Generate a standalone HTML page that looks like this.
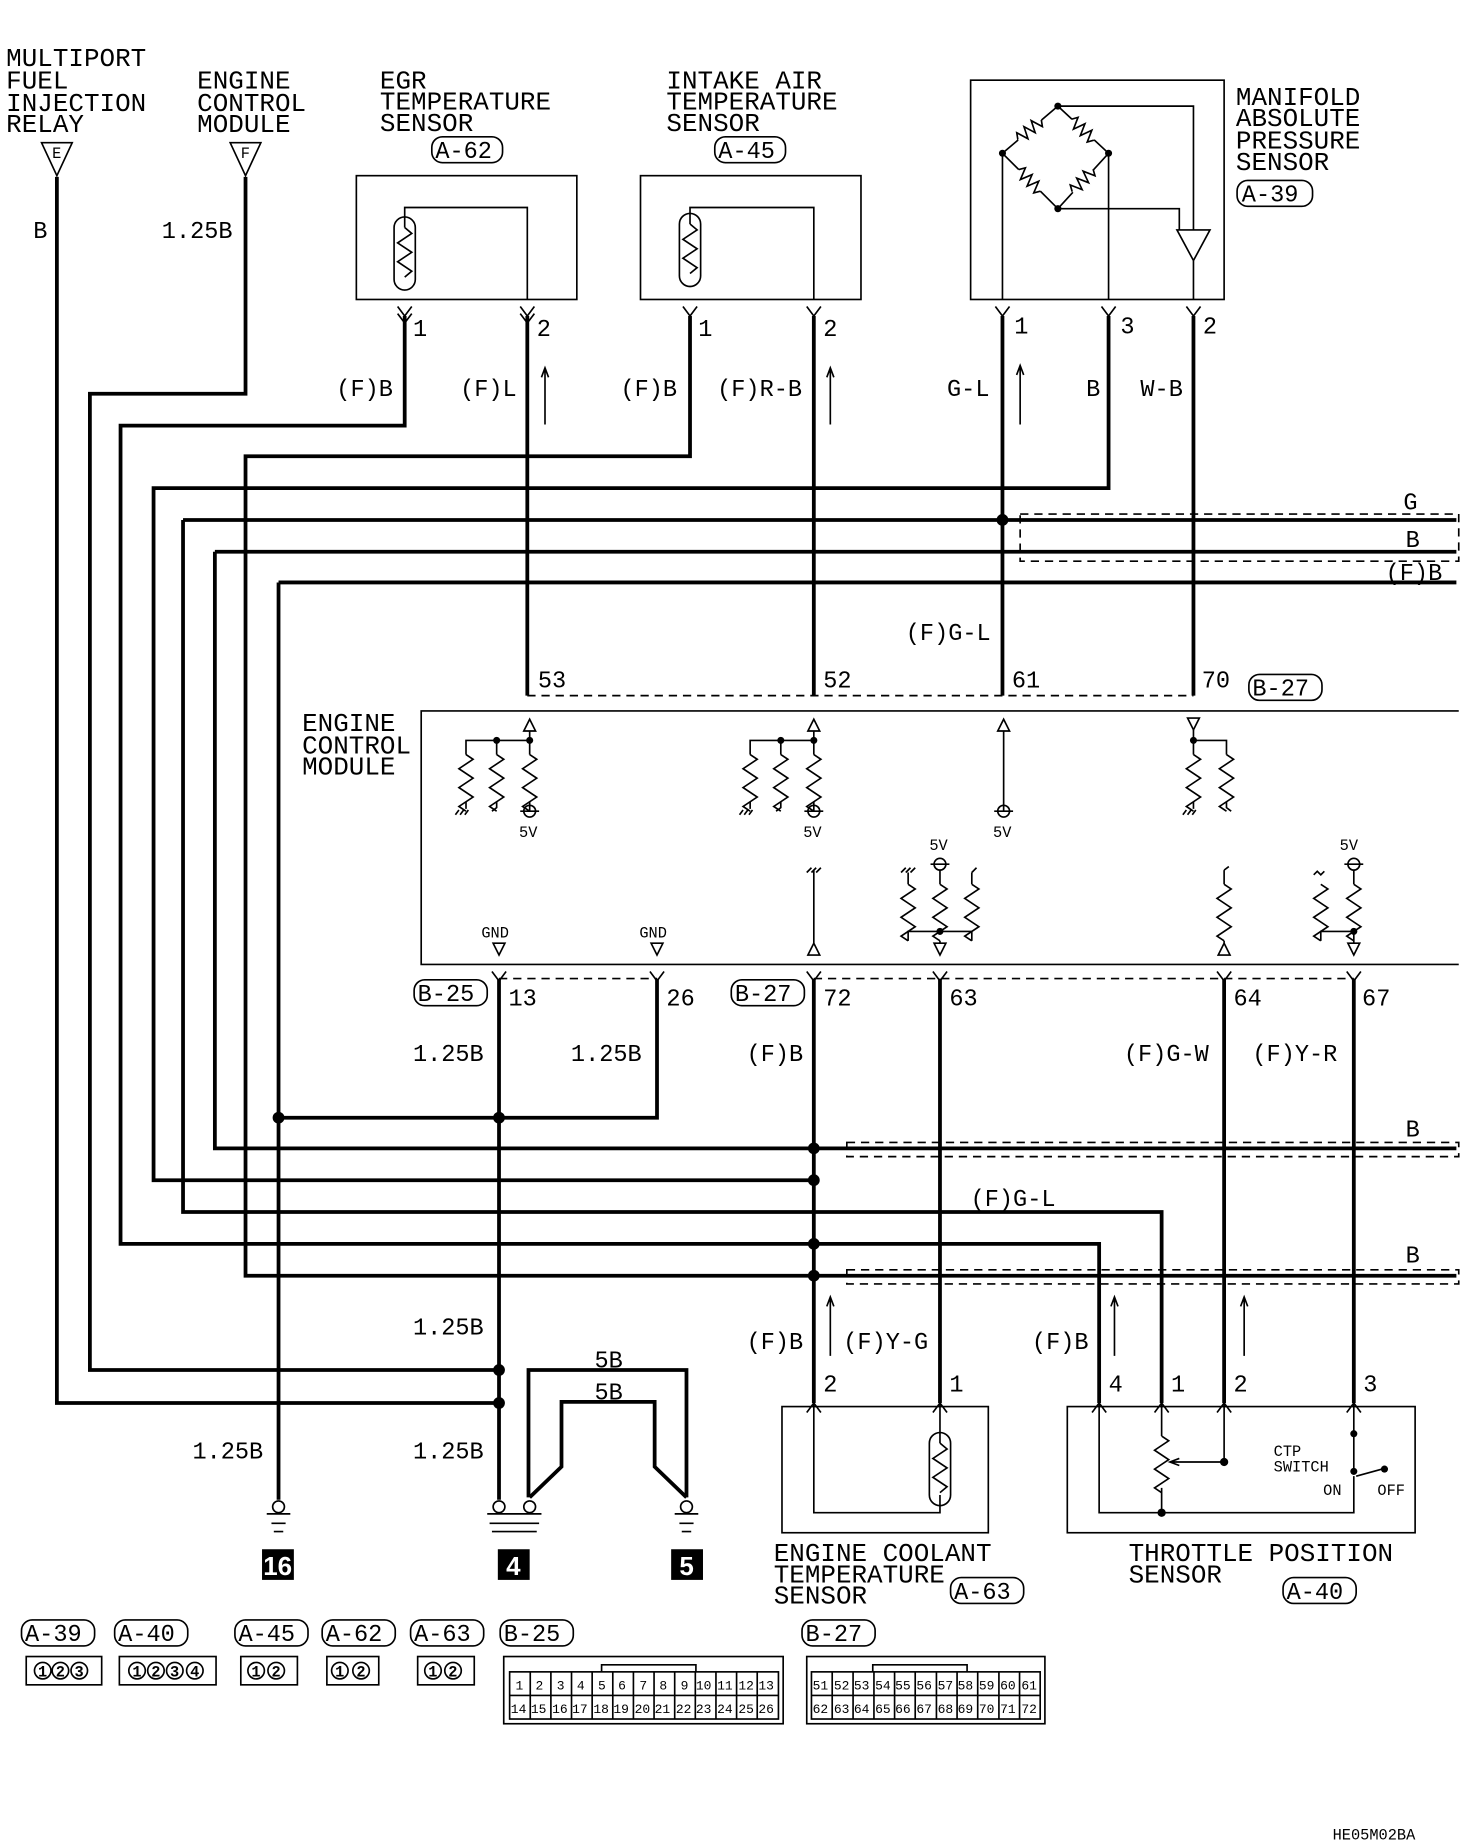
<!DOCTYPE html>
<html><head><meta charset="utf-8"><style>
html,body{margin:0;padding:0;background:#fff}
svg{display:block}
text{font-family:"Liberation Mono",monospace;fill:#000}
.t{font-size:22px}
.s{font-size:20px}
.xs{font-size:13px}
.w{stroke:#000;stroke-width:3.2;fill:none}
.n{stroke:#000;stroke-width:1.4;fill:none}
.d{stroke:#000;stroke-width:1.4;fill:none;stroke-dasharray:7 5}
</style></head><body>
<svg width="1472" height="1844" viewBox="0 0 1248 1564" xmlns="http://www.w3.org/2000/svg">
<defs>
<path id="r" d="M0 0 l6 4 l-12 8 l12 8 l-12 8 l12 8 l-12 8 l6 4" class="n"/>
<path id="th" d="M0 0 m-9 -22 a9 9 0 0 1 18 0 v44 a9 9 0 0 1 -18 0 z M0 -22 l6 5 l-12 8 l12 8 l-12 8 l12 8 l-6 5" class="n"/>
<g id="bz"><path d="M-13 0 H13" stroke="#fff" stroke-width="4"/><path d="M-13 0 l3 -5 l4 10 l4 -10 l4 10 l4 -10 l4 10 l3 -5" class="n"/></g>
</defs>

<!-- top-left labels -->
<text class="t" x="5" y="56">MULTIPORT</text>
<text class="t" x="5" y="75">FUEL</text>
<text class="t" x="5" y="94">INJECTION</text>
<text class="t" x="5" y="112">RELAY</text>
<text class="t" x="167" y="75">ENGINE</text>
<text class="t" x="167" y="94">CONTROL</text>
<text class="t" x="167" y="112">MODULE</text>
<path class="n" d="M35 121 h26 l-13 28 z M195 121 h26 l-13 28 z"/>
<text class="xs" x="44" y="134">E</text><text class="xs" x="204" y="134">F</text>
<text class="s" x="28" y="202">B</text>
<text class="s" x="137" y="202">1.25B</text>

<!-- EGR sensor -->
<text class="t" x="322" y="75">EGR</text>
<text class="t" x="322" y="93">TEMPERATURE</text>
<text class="t" x="322" y="111">SENSOR</text>
<rect x="366" y="116" width="60" height="22" rx="9" class="n"/><text class="s" x="369" y="134">A-62</text>
<rect x="302" y="149" width="187" height="105" class="n"/>
<use href="#th" x="343" y="215"/>
<path class="n" d="M343 193 V176 H447 V254"/>
<text class="s" x="350" y="285">1</text><text class="s" x="455" y="285">2</text>
<text class="s" x="285" y="336">(F)B</text><text class="s" x="390" y="336">(F)L</text>
<path class="n" d="M462 360 V312 M459 320 l3 -8 l3 8"/>

<!-- Intake air -->
<text class="t" x="565" y="75">INTAKE AIR</text>
<text class="t" x="565" y="93">TEMPERATURE</text>
<text class="t" x="565" y="111">SENSOR</text>
<rect x="606" y="116" width="60" height="22" rx="9" class="n"/><text class="s" x="609" y="134">A-45</text>
<rect x="543" y="149" width="187" height="105" class="n"/>
<use href="#th" x="585" y="212"/>
<path class="n" d="M585 190 V176 H690 V254"/>
<text class="s" x="592" y="285">1</text><text class="s" x="698" y="285">2</text>
<text class="s" x="526" y="336">(F)B</text><text class="s" x="608" y="336">(F)R-B</text>
<path class="n" d="M704 360 V312 M701 320 l3 -8 l3 8"/>

<!-- MAP sensor -->
<rect x="823" y="68" width="215" height="186" class="n"/>
<path class="n" d="M850 130 L897 90 L940 130 L897 177 Z"/>
<use href="#bz" transform="translate(873,110) rotate(-40)"/>
<use href="#bz" transform="translate(918,110) rotate(43)"/>
<use href="#bz" transform="translate(873,153) rotate(45)"/>
<use href="#bz" transform="translate(918,153) rotate(-47)"/>
<path class="n" d="M850 130 V254 M940 130 V254 M897 177 H1000 V195 M897 90 H1012 V195 M998 195 h28 l-14 26 z M1012 221 V254"/>
<circle cx="850" cy="130" r="3"/><circle cx="897" cy="90" r="3"/><circle cx="940" cy="130" r="3"/><circle cx="897" cy="177" r="3"/>
<text class="t" x="1048" y="89">MANIFOLD</text>
<text class="t" x="1048" y="107">ABSOLUTE</text>
<text class="t" x="1048" y="126">PRESSURE</text>
<text class="t" x="1048" y="144">SENSOR</text>
<rect x="1049" y="153" width="64" height="22" rx="9" class="n"/><text class="s" x="1053" y="171">A-39</text>
<text class="s" x="860" y="283">1</text><text class="s" x="950" y="283">3</text><text class="s" x="1020" y="283">2</text>
<text class="s" x="803" y="336">G-L</text><text class="s" x="921" y="336">B</text><text class="s" x="967" y="336">W-B</text>
<path class="n" d="M865 360 V310 M862 318 l3 -8 l3 8"/>

<!-- connector pin arrows top -->
<path class="n" d="M337 260 l6 8 l6 -8 M337 266 l6 8 l6 -8 M441 260 l6 8 l6 -8 M441 266 l6 8 l6 -8 M579 260 l6 8 l6 -8 M684 260 l6 8 l6 -8 M844 260 l6 8 l6 -8 M934 260 l6 8 l6 -8 M1006 260 l6 8 l6 -8"/>

<!-- top wiring -->
<path class="w" d="M48 150 V1190 H423"/>
<path class="w" d="M208 150 V334 H76 V1162 H423"/>
<path class="w" d="M343 268 V361 H102 V1055 H932 V1190"/>
<path class="w" d="M585 268 V387 H208 V1082 H1235"/>
<path class="w" d="M940 268 V414 H130 V1001 H690"/>
<path class="w" d="M155 441 H1235 M155 441 V1028 H985 V1190"/>
<path class="w" d="M182 468 H1235 M182 468 V974 H1235"/>
<path class="w" d="M236 494 H1235 M236 494 V1272"/>
<path class="w" d="M447 268 V590 M690 268 V590 M850 268 V590 M1012 268 V590"/>
<circle cx="850" cy="441" r="5"/>
<rect x="865" y="436" width="372" height="40" class="d"/>
<text class="s" x="1190" y="432">G</text>
<text class="s" x="1192" y="464">B</text>
<text class="s" x="1175" y="492">(F)B</text>
<text class="s" x="768" y="543">(F)G-L</text>

<!-- ECM -->
<path class="d" d="M447 590 H1012"/>
<text class="s" x="456" y="583">53</text><text class="s" x="698" y="583">52</text><text class="s" x="858" y="583">61</text><text class="s" x="1019" y="583">70</text>
<rect x="1059" y="572" width="62" height="22" rx="9" class="n"/><text class="s" x="1062" y="590">B-27</text>
<path class="n" d="M1237 603 H357 V818 H1237"/>
<text class="t" x="256" y="620">ENGINE</text><text class="t" x="256" y="639">CONTROL</text><text class="t" x="256" y="657">MODULE</text>

<!-- ECM internals upper -->
<g class="n">
<path d="M444 620 l5 -10 l5 10 z M685 620 l5 -10 l5 10 z M846 620 l5 -10 l5 10 z M1007 609 h10 l-5 10 z"/>
<path d="M449 620 V640 M449 688 V680 M395 640 V628 H449 M421 628 V640 M395 680 V686 M421 680 v5 l-4 3"/>
<path d="M690 620 V640 M690 688 V680 M636 640 V628 H690 M662 628 V640 M636 680 V686 M662 680 v5 l-4 3"/>
<path d="M851 620 V688 M1012 619 V640 M1012 628 H1040 V640 M1012 680 V686 M1040 680 v5 l4 3"/>
<circle cx="449" cy="688" r="5"/><circle cx="690" cy="688" r="5"/><circle cx="851" cy="688" r="5"/>
<path d="M441 688 h16 M682 688 h16 M843 688 h16 M389 687 l-3 4 M393 687 l-3 4 M397 687 l-3 4 M630 687 l-3 4 M634 687 l-3 4 M638 687 l-3 4 M1006 687 l-3 4 M1010 687 l-3 4 M1014 687 l-3 4"/>
</g>
<use href="#r" x="395" y="640"/><use href="#r" x="421" y="640"/><use href="#r" x="449" y="640"/>
<use href="#r" x="636" y="640"/><use href="#r" x="662" y="640"/><use href="#r" x="690" y="640"/>
<use href="#r" x="1012" y="640"/><use href="#r" x="1040" y="640"/>
<circle cx="421" cy="628" r="3"/><circle cx="449" cy="628" r="3"/><circle cx="662" cy="628" r="3"/><circle cx="690" cy="628" r="3"/><circle cx="1012" cy="628" r="3"/>
<text class="xs" x="440" y="710">5V</text><text class="xs" x="681" y="710">5V</text><text class="xs" x="842" y="710">5V</text>

<!-- ECM internals lower -->
<g class="n">
<path d="M690 738 V800 M685 810 l5 -10 l5 10 z M684 740 l4 -4 M688 740 l4 -4 M692 740 l4 -4"/>
<path d="M770 740 V750 M797 738 V750 M824 740 V750 M770 798 V790 H824 V798 M797 798 V800 M792 800 h10 l-5 10 z M764 740 l4 -4 M768 740 l4 -4 M772 740 l4 -4 M824 740 l4 -4"/>
<circle cx="797" cy="733" r="5"/><path d="M789 733 h16"/>
<path d="M1038 738 V750 M1038 798 V800 M1033 810 l5 -10 l5 10 z M1038 738 l4 -3"/>
<path d="M1148 738 V750 M1120 798 V790 H1148 V798 M1148 790 V800 M1143 800 h10 l-5 10 z M1114 742 l3 -3 l3 3 l3 -3"/>
<circle cx="1148" cy="733" r="5"/><path d="M1140 733 h16"/>
<path d="M418 800 h10 l-5 10 z M552 800 h10 l-5 10 z"/>
</g>
<use href="#r" x="770" y="750"/><use href="#r" x="797" y="750"/><use href="#r" x="824" y="750"/>
<use href="#r" x="1038" y="750"/><use href="#r" x="1120" y="750"/><use href="#r" x="1148" y="750"/>
<circle cx="797" cy="790" r="3"/><circle cx="1148" cy="790" r="3"/>
<text class="xs" x="788" y="721">5V</text><text class="xs" x="1136" y="721">5V</text>
<text class="xs" x="408" y="795">GND</text><text class="xs" x="542" y="795">GND</text>

<!-- bottom connector -->
<path class="d" d="M423 830 H557 M690 830 H1148"/>
<path class="n" d="M417 824 l6 8 l6 -8 M551 824 l6 8 l6 -8 M684 824 l6 8 l6 -8 M791 824 l6 8 l6 -8 M1032 824 l6 8 l6 -8 M1142 824 l6 8 l6 -8"/>
<rect x="351" y="831" width="62" height="22" rx="9" class="n"/><text class="s" x="354" y="849">B-25</text>
<rect x="620" y="831" width="62" height="22" rx="9" class="n"/><text class="s" x="623" y="849">B-27</text>
<text class="s" x="431" y="853">13</text><text class="s" x="565" y="853">26</text><text class="s" x="698" y="853">72</text><text class="s" x="805" y="853">63</text><text class="s" x="1046" y="853">64</text><text class="s" x="1155" y="853">67</text>
<path class="w" d="M423 830 V1272 M557 830 V948 H236 M690 830 V1190 M797 830 V1190 M1038 830 V1190 M1148 830 V1190"/>
<text class="s" x="350" y="900">1.25B</text><text class="s" x="484" y="900">1.25B</text>
<text class="s" x="633" y="900">(F)B</text>
<text class="s" x="953" y="900">(F)G-W</text><text class="s" x="1062" y="900">(F)Y-R</text>
<circle cx="236" cy="948" r="5"/><circle cx="423" cy="948" r="5"/>
<circle cx="690" cy="974" r="5"/><circle cx="690" cy="1001" r="5"/><circle cx="690" cy="1055" r="5"/><circle cx="690" cy="1082" r="5"/>
<circle cx="423" cy="1162" r="5"/><circle cx="423" cy="1190" r="5"/>
<rect x="718" y="969" width="519" height="12" class="d"/>
<rect x="718" y="1077" width="519" height="12" class="d"/>
<text class="s" x="1192" y="964">B</text><text class="s" x="1192" y="1071">B</text>
<text class="s" x="823" y="1023">(F)G-L</text>
<text class="s" x="350" y="1132">1.25B</text>
<text class="s" x="163" y="1237">1.25B</text><text class="s" x="350" y="1237">1.25B</text>

<!-- 5B grounds -->
<path class="w" d="M448 1270 V1162 H582 V1270 M449 1270 L476 1244 V1189 H555 V1244 L582 1270"/>
<text class="s" x="504" y="1160">5B</text><text class="s" x="504" y="1187">5B</text>
<g class="n">
<circle cx="236" cy="1278" r="5"/><path d="M226 1284 h20 M230 1292 h12 M232 1299 h8"/>
<circle cx="423" cy="1278" r="5"/><circle cx="449" cy="1278" r="5"/><path d="M413 1284 h46 M415 1292 h42 M417 1299 h38"/>
<circle cx="582" cy="1278" r="5"/><path d="M572 1284 h20 M576 1292 h12 M578 1299 h8"/>
</g>
<rect x="222" y="1314" width="27" height="26" fill="#000"/><text x="223" y="1336" style="font-size:22px;fill:#fff;font-weight:bold;font-family:'Liberation Sans',sans-serif">16</text>
<rect x="422" y="1314" width="27" height="26" fill="#000"/><text x="429" y="1336" style="font-size:22px;fill:#fff;font-weight:bold;font-family:'Liberation Sans',sans-serif">4</text>
<rect x="569" y="1314" width="27" height="26" fill="#000"/><text x="576" y="1336" style="font-size:22px;fill:#fff;font-weight:bold;font-family:'Liberation Sans',sans-serif">5</text>

<!-- ECT sensor -->
<text class="s" x="633" y="1144">(F)B</text><text class="s" x="715" y="1144">(F)Y-G</text>
<path class="n" d="M704 1150 V1100 M701 1108 l3 -8 l3 8"/>
<text class="s" x="698" y="1180">2</text><text class="s" x="805" y="1180">1</text>
<rect x="663" y="1193" width="175" height="107" class="n"/>
<path class="n" d="M684 1198 l6 -8 l6 8 M791 1198 l6 -8 l6 8 M690 1190 V1283 H797 V1268 M797 1190 V1224"/>
<use href="#th" x="797" y="1246"/>
<text class="t" x="656" y="1324">ENGINE COOLANT</text>
<text class="t" x="656" y="1342">TEMPERATURE</text>
<text class="t" x="656" y="1360">SENSOR</text>
<rect x="806" y="1338" width="62" height="22" rx="9" class="n"/><text class="s" x="809" y="1356">A-63</text>

<!-- TPS -->
<text class="s" x="875" y="1144">(F)B</text>
<path class="n" d="M945 1150 V1100 M942 1108 l3 -8 l3 8 M1055 1150 V1100 M1052 1108 l3 -8 l3 8"/>
<text class="s" x="940" y="1180">4</text><text class="s" x="993" y="1180">1</text><text class="s" x="1046" y="1180">2</text><text class="s" x="1156" y="1180">3</text>
<rect x="905" y="1193" width="295" height="107" class="n"/>
<path class="n" d="M926 1198 l6 -8 l6 8 M979 1198 l6 -8 l6 8 M1032 1198 l6 -8 l6 8 M1142 1198 l6 -8 l6 8"/>
<path class="n" d="M932 1190 V1283 H1148 V1252 M985 1190 V1218 M985 1262 V1283 M1038 1190 V1240 H993 M1000 1237 l-8 3 l8 3 M1148 1190 V1250 M1150 1252 L1172 1246"/>
<use href="#r" x="985" y="1218"/>
<circle cx="985" cy="1283" r="3.5"/><circle cx="1038" cy="1240" r="3.5"/><circle cx="1148" cy="1216" r="3"/><circle cx="1148" cy="1248" r="3"/><circle cx="1174" cy="1246" r="3"/>
<text class="xs" x="1080" y="1235">CTP</text><text class="xs" x="1080" y="1248">SWITCH</text>
<text class="xs" x="1122" y="1268">ON</text><text class="xs" x="1168" y="1268">OFF</text>
<text class="t" x="957" y="1324">THROTTLE POSITION</text>
<text class="t" x="957" y="1342">SENSOR</text>
<rect x="1088" y="1338" width="62" height="22" rx="9" class="n"/><text class="s" x="1091" y="1356">A-40</text>

<!-- connector legends -->
<g class="n">
<rect x="18" y="1374" width="62" height="22" rx="9"/><rect x="97" y="1374" width="62" height="22" rx="9"/>
<rect x="199" y="1374" width="62" height="22" rx="9"/><rect x="273" y="1374" width="62" height="22" rx="9"/>
<rect x="348" y="1374" width="62" height="22" rx="9"/><rect x="424" y="1374" width="62" height="22" rx="9"/>
<rect x="680" y="1374" width="62" height="22" rx="9"/>
<rect x="22" y="1405" width="64" height="24"/><rect x="101" y="1405" width="82" height="24"/>
<rect x="204" y="1405" width="48" height="24"/><rect x="277" y="1405" width="44" height="24"/><rect x="354" y="1405" width="48" height="24"/>
</g>
<text class="s" x="21" y="1392">A-39</text><text class="s" x="100" y="1392">A-40</text><text class="s" x="202" y="1392">A-45</text>
<text class="s" x="276" y="1392">A-62</text><text class="s" x="351" y="1392">A-63</text><text class="s" x="427" y="1392">B-25</text><text class="s" x="683" y="1392">B-27</text>
<g style="font-size:13px;font-family:'Liberation Sans',sans-serif;font-weight:bold">
<text x="32" y="1422">1</text><text x="47" y="1422">2</text><text x="63" y="1422">3</text>
<text x="112" y="1422">1</text><text x="128" y="1422">2</text><text x="144" y="1422">3</text><text x="161" y="1422">4</text>
<text x="213" y="1422">1</text><text x="230" y="1422">2</text>
<text x="284" y="1422">1</text><text x="302" y="1422">2</text>
<text x="363" y="1422">1</text><text x="380" y="1422">2</text>
</g>
<g class="n">
<circle cx="36" cy="1417" r="7"/><circle cx="51" cy="1417" r="7"/><circle cx="67" cy="1417" r="7"/>
<circle cx="116" cy="1417" r="7"/><circle cx="132" cy="1417" r="7"/><circle cx="148" cy="1417" r="7"/><circle cx="165" cy="1417" r="7"/>
<circle cx="217" cy="1417" r="7"/><circle cx="234" cy="1417" r="7"/>
<circle cx="288" cy="1417" r="7"/><circle cx="306" cy="1417" r="7"/>
<circle cx="367" cy="1417" r="7"/><circle cx="384" cy="1417" r="7"/>
<rect x="427" y="1405" width="237" height="57"/><rect x="432" y="1418" width="228" height="40"/>
<rect x="684" y="1405" width="202" height="57"/><rect x="688" y="1418" width="194" height="40"/>
<path d="M432 1438 h228 M449.5 1418 v40 M467 1418 v40 M484.5 1418 v40 M502 1418 v40 M519.5 1418 v40 M537 1418 v40 M554.5 1418 v40 M572 1418 v40 M589.5 1418 v40 M607 1418 v40 M624.5 1418 v40 M642 1418 v40"/>
<path d="M688 1438 h194 M705.6 1418 v40 M723.3 1418 v40 M741 1418 v40 M758.5 1418 v40 M776 1418 v40 M794 1418 v40 M811.5 1418 v40 M829 1418 v40 M847 1418 v40 M864.5 1418 v40"/>
<path d="M510 1418 v-6 h80 v6 M740 1418 v-6 h80 v6"/>
</g>
<g style="font-size:11px;font-family:'Liberation Sans',sans-serif">
<text x="437" y="1433">1</text><text x="454" y="1433">2</text><text x="472" y="1433">3</text><text x="489" y="1433">4</text><text x="507" y="1433">5</text><text x="524" y="1433">6</text><text x="542" y="1433">7</text><text x="559" y="1433">8</text><text x="577" y="1433">9</text><text x="590" y="1433">10</text><text x="608" y="1433">11</text><text x="626" y="1433">12</text><text x="643" y="1433">13</text>
<text x="433" y="1453">14</text><text x="450" y="1453">15</text><text x="468" y="1453">16</text><text x="485" y="1453">17</text><text x="503" y="1453">18</text><text x="520" y="1453">19</text><text x="538" y="1453">20</text><text x="555" y="1453">21</text><text x="573" y="1453">22</text><text x="590" y="1453">23</text><text x="608" y="1453">24</text><text x="626" y="1453">25</text><text x="643" y="1453">26</text>
<text x="689" y="1433">51</text><text x="707" y="1433">52</text><text x="724" y="1433">53</text><text x="742" y="1433">54</text><text x="759" y="1433">55</text><text x="777" y="1433">56</text><text x="795" y="1433">57</text><text x="812" y="1433">58</text><text x="830" y="1433">59</text><text x="848" y="1433">60</text><text x="866" y="1433">61</text>
<text x="689" y="1453">62</text><text x="707" y="1453">63</text><text x="724" y="1453">64</text><text x="742" y="1453">65</text><text x="759" y="1453">66</text><text x="777" y="1453">67</text><text x="795" y="1453">68</text><text x="812" y="1453">69</text><text x="830" y="1453">70</text><text x="848" y="1453">71</text><text x="866" y="1453">72</text>
</g>
<text x="1130" y="1560" style="font-size:13px">HE05M02BA</text>
</svg>
</body></html>
